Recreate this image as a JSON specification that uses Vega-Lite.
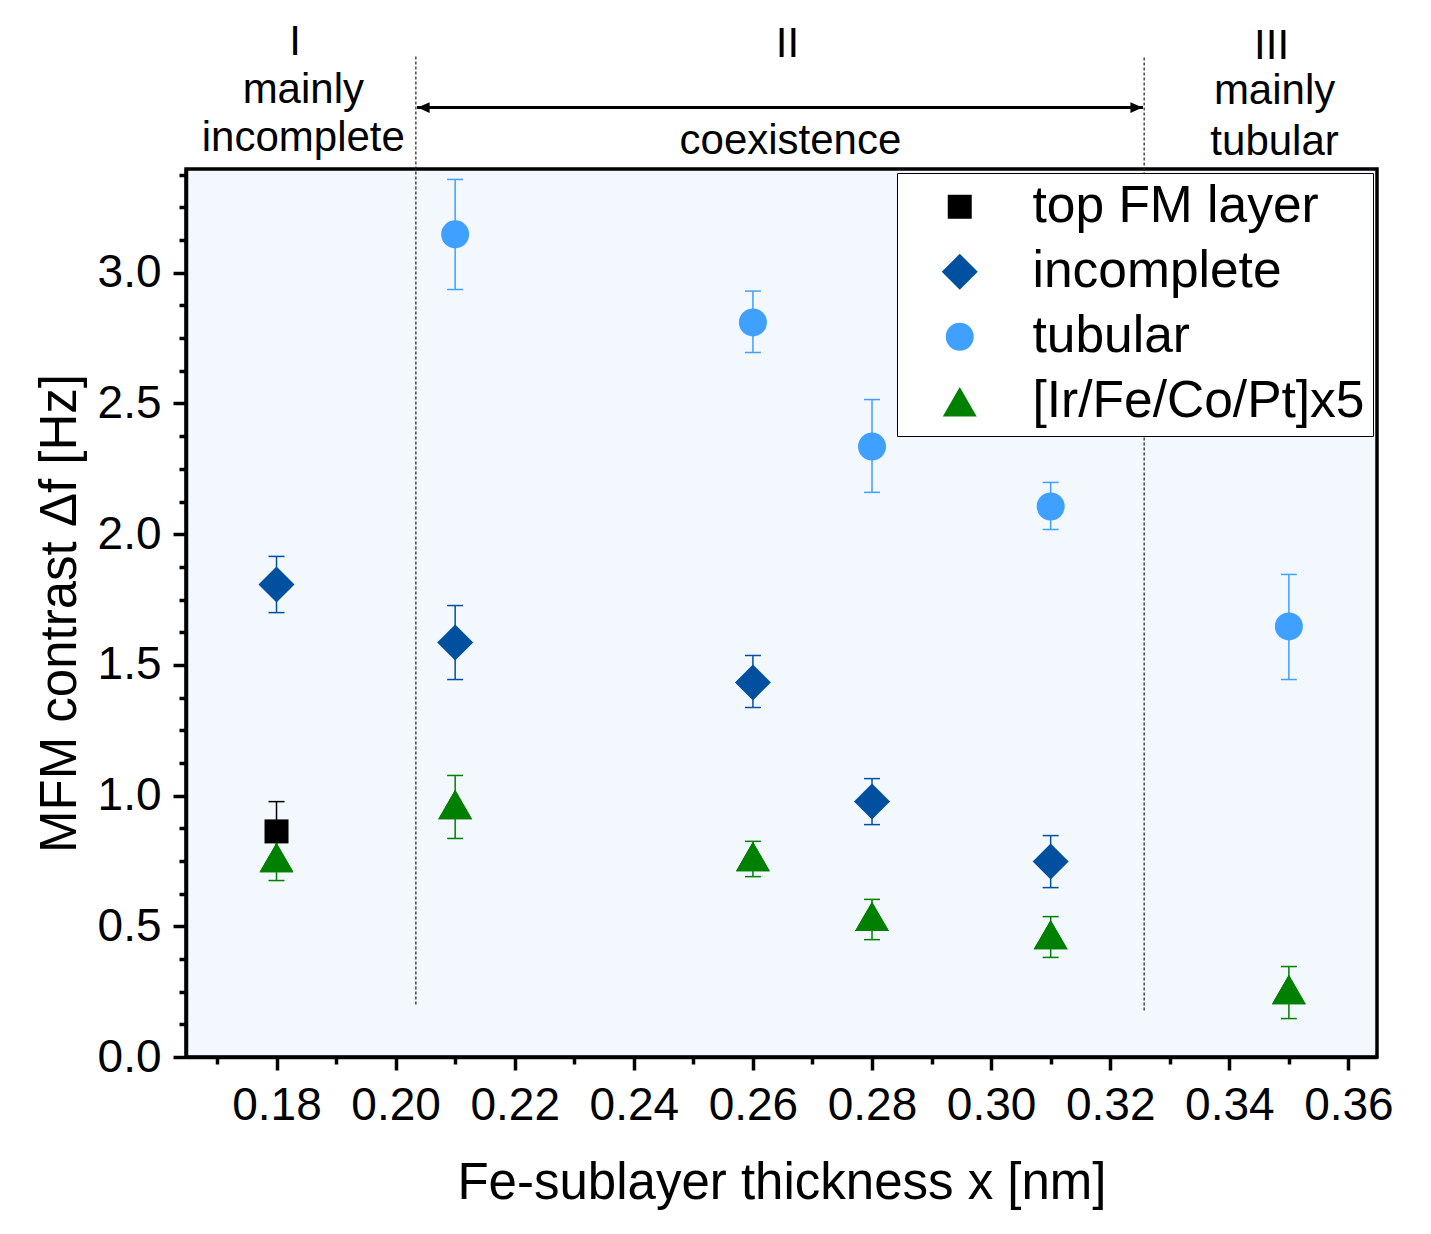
{
  "$schema": "https://vega.github.io/schema/vega-lite/v6.json",
  "width": 1191,
  "height": 888,
  "autosize": {"type": "none"},
  "padding": {"left": 186, "top": 169, "right": 54, "bottom": 177},
  "background": "white",
  "config": {
    "font": "Liberation Sans",
    "view": {"stroke": "black", "strokeWidth": 3.5, "fill": "#F3F8FE"},
    "axis": {"grid": false, "labelColor": "black", "tickColor": "black", "domainColor": "black", "titleColor": "black", "labelFont": "Liberation Sans", "titleFont": "Liberation Sans"},
    "legend": {"orient": "top-right", "offset": 4, "labelFontSize": 51.5, "labelFont": "Liberation Sans", "labelColor": "black", "strokeColor": "black", "fillColor": "white", "padding": 8, "rowPadding": 12, "symbolOffset": 29, "labelOffset": 47, "symbolOpacity": 1, "symbolStrokeWidth": 0, "labelLimit": 600}
  },
  "datasets": {
    "pts": [
      {"s": "top FM layer", "x": 0.18, "y": 0.863, "lo": 0.755, "hi": 0.977},
      {"s": "incomplete", "x": 0.18, "y": 1.808, "lo": 1.70, "hi": 1.915},
      {"s": "incomplete", "x": 0.21, "y": 1.586, "lo": 1.444, "hi": 1.727},
      {"s": "incomplete", "x": 0.26, "y": 1.433, "lo": 1.337, "hi": 1.536},
      {"s": "incomplete", "x": 0.28, "y": 0.977, "lo": 0.889, "hi": 1.065},
      {"s": "incomplete", "x": 0.31, "y": 0.748, "lo": 0.648, "hi": 0.847},
      {"s": "tubular", "x": 0.21, "y": 3.147, "lo": 2.936, "hi": 3.357},
      {"s": "tubular", "x": 0.26, "y": 2.81, "lo": 2.695, "hi": 2.93},
      {"s": "tubular", "x": 0.28, "y": 2.335, "lo": 2.16, "hi": 2.515},
      {"s": "tubular", "x": 0.31, "y": 2.106, "lo": 2.018, "hi": 2.198},
      {"s": "tubular", "x": 0.35, "y": 1.647, "lo": 1.444, "hi": 1.846},
      {"s": "[Ir/Fe/Co/Pt]x5", "x": 0.18, "y": 0.763, "lo": 0.675, "hi": 0.85},
      {"s": "[Ir/Fe/Co/Pt]x5", "x": 0.21, "y": 0.966, "lo": 0.836, "hi": 1.077},
      {"s": "[Ir/Fe/Co/Pt]x5", "x": 0.26, "y": 0.767, "lo": 0.69, "hi": 0.825},
      {"s": "[Ir/Fe/Co/Pt]x5", "x": 0.28, "y": 0.538, "lo": 0.449, "hi": 0.603},
      {"s": "[Ir/Fe/Co/Pt]x5", "x": 0.31, "y": 0.468, "lo": 0.381, "hi": 0.537},
      {"s": "[Ir/Fe/Co/Pt]x5", "x": 0.35, "y": 0.258, "lo": 0.147, "hi": 0.346}
    ],
    "vlines": [
      {"x": 0.2034, "y": 0.201, "y2": 3.827},
      {"x": 0.3257, "y": 0.178, "y2": 3.827}
    ],
    "arrow": [
      {"x": 0.2036, "x2": 0.3255, "y": 3.632}
    ],
    "headL": [
      {"x": 0.2047, "y": 3.632}
    ],
    "headR": [
      {"x": 0.3244, "y": 3.632}
    ],
    "ann": [
      {"t": "I", "x": 0.1831, "y": 3.835},
      {"t": "mainly", "x": 0.1845, "y": 3.648},
      {"t": "incomplete", "x": 0.1845, "y": 3.464},
      {"t": "II", "x": 0.2658, "y": 3.824},
      {"t": "coexistence", "x": 0.2663, "y": 3.456},
      {"t": "III", "x": 0.3471, "y": 3.816},
      {"t": "mainly", "x": 0.3476, "y": 3.647},
      {"t": "tubular", "x": 0.3476, "y": 3.452}
    ]
  },
  "encoding": {
    "x": {"field": "x", "type": "quantitative", "scale": {"domain": [0.1648, 0.3648], "nice": false, "zero": false}, "axis": null},
    "y": {"field": "y", "type": "quantitative", "scale": {"domain": [0, 3.397], "nice": false, "zero": false}, "axis": null}
  },
  "resolve": {"axis": {"x": "independent", "y": "independent"}},
  "layer": [
    {
      "data": {"name": "vlines"},
      "mark": {"type": "rule", "strokeDash": [3, 2], "strokeWidth": 1.2, "color": "#222222"},
      "encoding": {"y2": {"field": "y2"}}
    },
    {
      "data": {"name": "arrow"},
      "mark": {"type": "rule", "strokeWidth": 3, "color": "black"},
      "encoding": {"x2": {"field": "x2"}}
    },
    {
      "data": {"name": "headL"},
      "mark": {"type": "point", "filled": true, "opacity": 1, "color": "black", "size": 144, "strokeWidth": 0, "shape": "M -1 0 L 1 -0.9 L 1 0.9 Z"}
    },
    {
      "data": {"name": "headR"},
      "mark": {"type": "point", "filled": true, "opacity": 1, "color": "black", "size": 144, "strokeWidth": 0, "shape": "M 1 0 L -1 -0.9 L -1 0.9 Z"}
    },
    {
      "data": {"name": "ann"},
      "mark": {"type": "text", "fontSize": 42, "align": "center", "baseline": "alphabetic", "color": "black", "font": "Liberation Sans"},
      "encoding": {"text": {"field": "t"}}
    },
    {
      "data": {"name": "pts"},
      "transform": [{"filter": "datum.s == '[Ir/Fe/Co/Pt]x5'"}],
      "mark": {"type": "rule", "strokeWidth": 1.5, "color": "#008000"},
      "encoding": {"y": {"field": "lo", "type": "quantitative", "scale": {"domain": [0, 3.397], "nice": false, "zero": false}, "axis": null}, "y2": {"field": "hi"}}
    },
    {
      "data": {"name": "pts"},
      "transform": [{"filter": "datum.s == '[Ir/Fe/Co/Pt]x5'"}, {"fold": ["lo", "hi"], "as": ["k", "v"]}],
      "mark": {"type": "tick", "orient": "horizontal", "size": 16, "thickness": 1.5, "color": "#008000", "opacity": 1},
      "encoding": {"y": {"field": "v", "type": "quantitative", "scale": {"domain": [0, 3.397], "nice": false, "zero": false}, "axis": null}}
    },
    {
      "data": {"name": "pts"},
      "transform": [{"filter": "datum.s == '[Ir/Fe/Co/Pt]x5'"}],
      "mark": {"type": "point", "filled": true, "opacity": 1, "strokeWidth": 0, "shape": "triangle-up", "size": 1150, "color": "#008000"}
    },
    {
      "data": {"name": "pts"},
      "transform": [{"filter": "datum.s != '[Ir/Fe/Co/Pt]x5'"}],
      "mark": {"type": "rule", "strokeWidth": 1.5},
      "encoding": {
        "x": {"field": "x", "type": "quantitative", "scale": {"domain": [0.1648, 0.3648], "nice": false, "zero": false},
          "axis": {"orient": "bottom", "values": [0.17, 0.19, 0.21, 0.23, 0.25, 0.27, 0.29, 0.31, 0.33, 0.35], "labels": false, "domain": false, "title": null, "tickSize": 7, "tickWidth": 3.5}},
        "y": {"field": "lo", "type": "quantitative", "scale": {"domain": [0, 3.397], "nice": false, "zero": false},
          "axis": {"orient": "left", "values": [0.125, 0.25, 0.375, 0.625, 0.75, 0.875, 1.125, 1.25, 1.375, 1.625, 1.75, 1.875, 2.125, 2.25, 2.375, 2.625, 2.75, 2.875, 3.125, 3.25, 3.375], "labels": false, "domain": false, "title": null, "tickSize": 7, "tickWidth": 3.5}},
        "y2": {"field": "hi"},
        "stroke": {"field": "s", "type": "nominal", "scale": {"domain": ["top FM layer", "incomplete", "tubular"], "range": ["#000000", "#0050A0", "#3FA0FF"]}, "legend": null}
      }
    },
    {
      "data": {"name": "pts"},
      "transform": [{"filter": "datum.s != '[Ir/Fe/Co/Pt]x5'"}, {"fold": ["lo", "hi"], "as": ["k", "v"]}],
      "mark": {"type": "tick", "orient": "horizontal", "size": 16, "thickness": 1.5, "opacity": 1},
      "encoding": {
        "y": {"field": "v", "type": "quantitative", "scale": {"domain": [0, 3.397], "nice": false, "zero": false}, "axis": null},
        "fill": {"field": "s", "type": "nominal", "scale": {"domain": ["incomplete", "top FM layer", "tubular"], "range": ["#0050A0", "#000000", "#3FA0FF"]}, "legend": null}
      }
    },
    {
      "data": {"name": "pts"},
      "mark": {"type": "point", "filled": true, "opacity": 1, "strokeWidth": 0},
      "encoding": {
        "x": {"field": "x", "type": "quantitative", "scale": {"domain": [0.1648, 0.3648], "nice": false, "zero": false},
          "axis": {"orient": "bottom", "values": [0.18, 0.2, 0.22, 0.24, 0.26, 0.28, 0.3, 0.32, 0.34, 0.36], "format": ".2f", "labelFontSize": 46, "labelPadding": 13, "labelFlush": false, "labelOverlap": false, "tickSize": 13, "tickWidth": 3.5, "domainWidth": 3.5, "title": "Fe-sublayer thickness x [nm]", "titleFontSize": 51, "titleFontWeight": "normal", "titlePadding": 30}},
        "y": {"field": "y", "type": "quantitative", "scale": {"domain": [0, 3.397], "nice": false, "zero": false},
          "axis": {"orient": "left", "values": [0, 0.5, 1, 1.5, 2, 2.5, 3], "format": ".1f", "labelFontSize": 46, "labelPadding": 12, "labelFlush": false, "labelOverlap": false, "tickSize": 13, "tickWidth": 3.5, "domainWidth": 3.5, "title": "MFM contrast Δf [Hz]", "titleFontSize": 51, "titleFontWeight": "normal", "titlePadding": 11}},
        "color": {"field": "s", "type": "nominal", "scale": {"domain": ["top FM layer", "incomplete", "tubular", "[Ir/Fe/Co/Pt]x5"], "range": ["#000000", "#0050A0", "#3FA0FF", "#008000"]}, "legend": {"title": null}},
        "shape": {"field": "s", "type": "nominal", "scale": {"domain": ["top FM layer", "incomplete", "tubular", "[Ir/Fe/Co/Pt]x5"], "range": ["square", "diamond", "circle", "triangle-up"]}, "legend": {"title": null}},
        "size": {"field": "s", "type": "nominal", "scale": {"type": "ordinal", "domain": ["top FM layer", "incomplete", "tubular", "[Ir/Fe/Co/Pt]x5"], "range": [576, 1296, 784, 1150]}, "legend": {"title": null}}
      }
    }
  ]
}
